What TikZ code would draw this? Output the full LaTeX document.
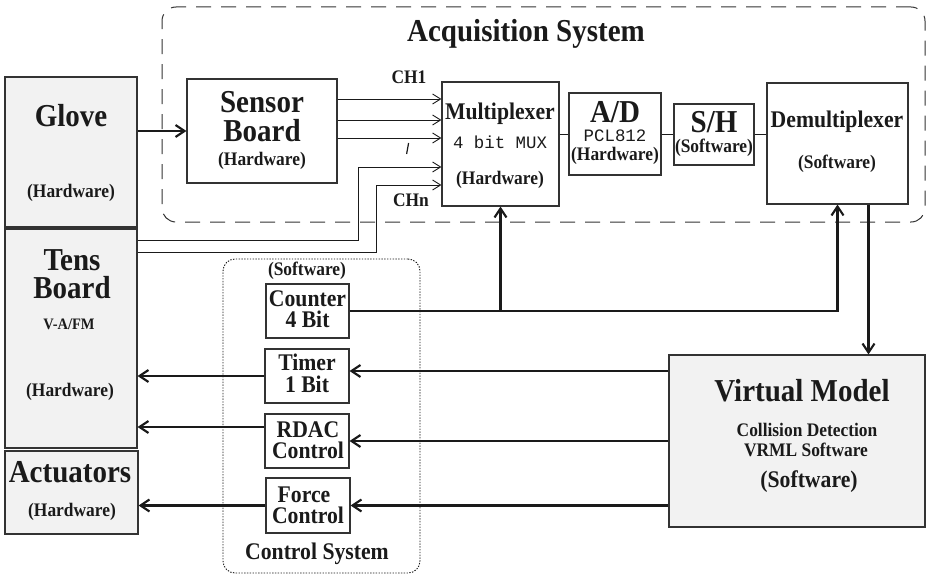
\documentclass[tikz,border=0pt]{standalone}
\usepackage{fontspec}
\setmainfont{Liberation Serif}
\setmonofont{Liberation Mono}
\usetikzlibrary{arrows.meta}
\definecolor{linec}{HTML}{1A1A1A}
\definecolor{boxc}{HTML}{333333}
\definecolor{fillc}{HTML}{F2F2F2}
\newcommand\fbig{\fontsize{29}{32}\selectfont\bfseries}
\newcommand\fmed{\fontsize{21.7}{24}\selectfont\bfseries}
\newcommand\fsml{\fontsize{17.4}{20}\selectfont\bfseries}
\newcommand\ftny{\fontsize{14.5}{17}\selectfont\bfseries}
\newcommand\fmono{\fontsize{17.4}{20}\selectfont\ttfamily}
\newcommand\tall[1]{\scalebox{1}[1.1]{#1}}
\tikzset{
  blk/.style={draw=boxc, line width=1.2pt, inner sep=0pt, minimum width=#1},
  gblk/.style={blk=#1, fill=fillc},
  txt/.style={anchor=base, inner sep=0pt, text=linec},
  thinarr/.style={draw=linec, line width=0.9pt, -{Straight Barb[length=8pt,width=10pt]}},
  thickarr/.style={draw=linec, line width=2.1pt, -{Straight Barb[length=9pt,width=12pt]}},
  thinln/.style={draw=linec, line width=0.9pt},
}
\begin{document}
\begin{tikzpicture}[x=1pt,y=-1pt]
\useasboundingbox (0,0) rectangle (927,575);

% group frames
\node[draw=boxc, line width=1pt, dash pattern=on 15pt off 10pt, rounded corners=14pt,
      minimum width=763pt, minimum height=215pt, inner sep=0pt] (acq) at (543.5,114.5) {};
\node[draw=linec, line width=0.9pt, dash pattern=on 1.4pt off 1.4pt, rounded corners=12pt,
      minimum width=197pt, minimum height=314pt, inner sep=0pt] (ctrl) at (321.5,416) {};

% boxes
\node[gblk=132pt, minimum height=150pt] (glove) at (71,152) {};
\node[blk=150pt, minimum height=104pt] (sensor) at (262,131) {};
\node[blk=117pt, minimum height=124pt] (mux) at (500.5,144) {};
\node[blk=92pt, minimum height=82pt] (ad) at (615,134) {};
\node[blk=80pt, minimum height=61pt] (sh) at (714,134.5) {};
\node[blk=141pt, minimum height=121pt] (demux) at (837.5,143.5) {};
\node[gblk=132pt, minimum height=219pt] (tens) at (71,338.5) {};
\node[gblk=133pt, minimum height=83pt] (act) at (71.5,492.5) {};
\node[blk=83pt, minimum height=54pt] (counter) at (307.5,311) {};
\node[blk=84pt, minimum height=54pt] (timer) at (307,376) {};
\node[blk=84pt, minimum height=54pt] (rdac) at (307,441) {};
\node[blk=84pt, minimum height=55pt] (force) at (308,505.5) {};
\node[gblk=256pt, minimum height=172pt] (vm) at (797,441) {};

% texts
\node[txt] (t-acq) at (526,42) {\fbig\tall{Acquisition System}};
\node[txt] (t-glove) at (71,127) {\fbig\tall{Glove}};
\node[txt] (t-gloveh) at (71,197) {\fsml\tall{(Hardware)}};
\node[txt] (t-sens1) at (262,113) {\fbig\tall{Sensor}};
\node[txt] (t-sens2) at (262,142) {\fbig\tall{Board}};
\node[txt] (t-sens3) at (262,166) {\fsml\tall{(Hardware)}};
\node[txt] (t-ch1) at (409,84) {\fsml\tall{CH1}};
\node[txt] (t-chn) at (411,207) {\fsml\tall{CHn}};
\node[txt] (t-mux1) at (500,120) {\fmed\tall{Multiplexer}};
\node[txt] (t-mux2) at (500,149) {\fmono 4 bit MUX};
\node[txt] (t-mux3) at (500,185) {\fsml\tall{(Hardware)}};
\node[txt] (t-ad1) at (615,123) {\fbig\tall{A/D}};
\node[txt] (t-ad2) at (615,142) {\fmono PCL812};
\node[txt] (t-ad3) at (615,161) {\fsml\tall{(Hardware)}};
\node[txt] (t-sh1) at (714,133) {\fbig\tall{S/H}};
\node[txt] (t-sh2) at (714,153) {\fsml\tall{(Software)}};
\node[txt] (t-dm1) at (837,128) {\fmed\tall{Demultiplexer}};
\node[txt] (t-dm2) at (837,169) {\fsml\tall{(Software)}};
\node[txt] (t-tens1) at (72,270) {\fbig\tall{Tens}};
\node[txt] (t-tens2) at (72,298) {\fbig\tall{Board}};
\node[txt] (t-tens3) at (69,329) {\ftny\tall{V-A/FM}};
\node[txt] (t-tens4) at (70,396) {\fsml\tall{(Hardware)}};
\node[txt] (t-act1) at (70,482) {\fbig\tall{Actuators}};
\node[txt] (t-act2) at (72,516) {\fsml\tall{(Hardware)}};
\node[txt] (t-csw) at (307,275) {\fsml\tall{(Software)}};
\node[txt] (t-cnt1) at (307.5,306) {\fmed\tall{Counter}};
\node[txt] (t-cnt2) at (307.5,327) {\fmed\tall{4 Bit}};
\node[txt] (t-tim1) at (307,370) {\fmed\tall{Timer}};
\node[txt] (t-tim2) at (307,392) {\fmed\tall{1 Bit}};
\node[txt] (t-rd1) at (308,437) {\fmed\tall{RDAC}};
\node[txt] (t-rd2) at (308,458) {\fmed\tall{Control}};
\node[txt] (t-fo1) at (304,502) {\fmed\tall{Force}};
\node[txt] (t-fo2) at (308,523) {\fmed\tall{Control}};
\node[txt] (t-cs) at (317,559) {\fmed\tall{Control System}};
\node[txt] (t-vm1) at (802,401) {\fbig\tall{Virtual Model}};
\node[txt] (t-vm2) at (807,436) {\fsml\tall{Collision Detection}};
\node[txt] (t-vm3) at (806,456) {\fsml\tall{VRML Software}};
\node[txt] (t-vm4) at (809,487) {\fmed\tall{(Software)}};

% connectors
\draw[thickarr] (sensor.west -| glove.east) -- (sensor.west);
\draw[thinarr] ([yshift=32pt]sensor.east) -- ([yshift=32pt]sensor.east -| mux.west);
\draw[thinarr] ([yshift=11pt]sensor.east) -- ([yshift=11pt]sensor.east -| mux.west);
\draw[thinarr] ([yshift=-7pt]sensor.east) -- ([yshift=-7pt]sensor.east -| mux.west);
\draw[thinarr] ([yshift=98.5pt]tens.east) -| ([xshift=-83pt,yshift=-23pt]mux.west) -- ([yshift=-23pt]mux.west);
\draw[thinarr] ([yshift=86.5pt]tens.east) -| ([xshift=-65pt,yshift=-41pt]mux.west) -- ([yshift=-41pt]mux.west);
\draw[draw=linec, line width=1.2pt] ([xshift=69pt,yshift=-23pt]sensor.east) -- ([xshift=71pt,yshift=-12pt]sensor.east);
\draw[thinln] (ad.west -| mux.east) -- (ad.west);
\draw[thinln] (ad.east) -- (ad.east -| sh.west);
\draw[thinln] (sh.east) -- (sh.east -| demux.west);
\draw[thickarr] (counter.east) -| (demux.south);
\draw[thickarr] (counter.east -| mux.south) -- (mux.south);
\draw[thickarr] ([xshift=31pt]demux.south) -- ([xshift=31pt]demux.south |- vm.north);
\draw[thickarr] ([yshift=5pt]timer.east -| vm.west) -- ([yshift=5pt]timer.east);
\draw[thickarr] (timer.west) -- (timer.west -| tens.east);
\draw[thickarr] (rdac.east -| vm.west) -- (rdac.east);
\draw[thickarr] ([yshift=14pt]rdac.west) -- ([yshift=14pt]rdac.west -| tens.east);
\draw[thickarr] (force.east -| vm.west) -- (force.east);
\draw[thickarr] (force.west) -- (force.west -| act.east);
\end{tikzpicture}
\end{document}
